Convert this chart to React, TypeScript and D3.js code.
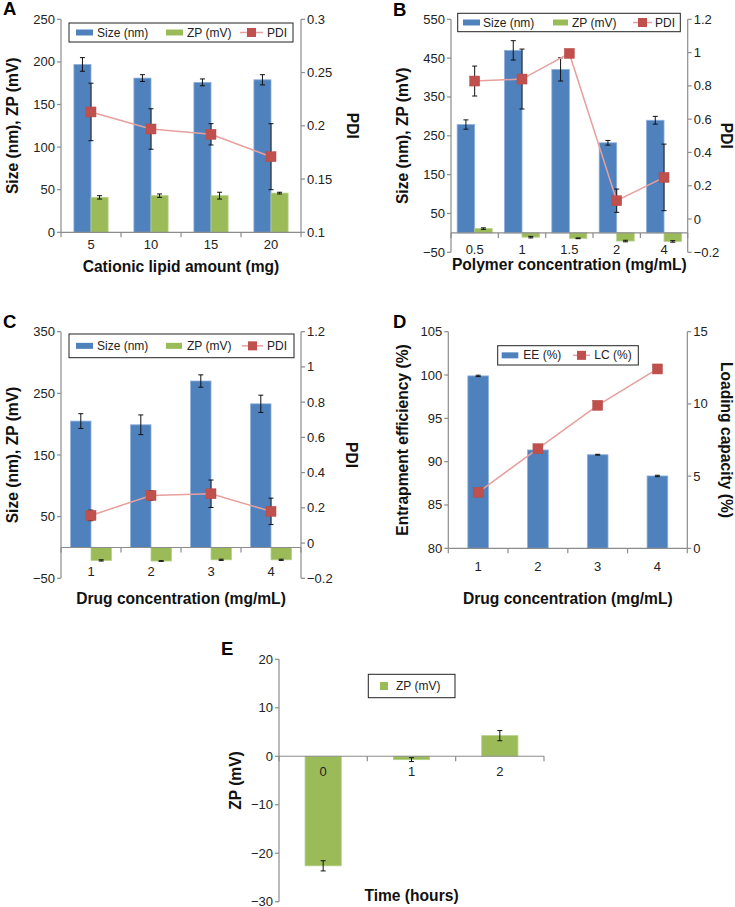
import React from "react";
import * as d3 from "d3";

const FONT = '"Liberation Sans", Arial, Helvetica, sans-serif';
const BLUE = "#4f81bd";
const GREEN = "#9bbb59";
const RED = "#c0504d";
const LINEC = "#e6a09e";
const AXIS = "#8c8c8c";

// ---------- DATA ----------
// Panel A
const catA = ["5", "10", "15", "20"];
const sizeA = [197, 181, 176, 179];
const sizeErrA = [8, 4, 4, 6];
const zpA = [41, 43, 43, 46];
const zpErrA = [2, 2, 4, 1];
const pdiA = [0.213, 0.197, 0.192, 0.171];
const pdiErrA = [0.027, 0.019, 0.01, 0.031];
const ticksAL = [0, 50, 100, 150, 200, 250];
const ticksAR = [0.1, 0.15, 0.2, 0.25, 0.3];

// Panel B
const catB = ["0.5", "1", "1.5", "2", "4"];
const sizeB = [279, 470, 421, 232, 290];
const sizeErrB = [12, 25, 30, 6, 10];
const zpB = [11, -11, -14, -21, -22];
const zpErrB = [2, 2, 1, 2, 2];
const pdiB = [0.829, 0.841, 0.995, 0.11, 0.25];
const pdiErrB = [0.09, 0.18, 0, 0.07, 0.2];
const ticksBL = [-50, 50, 150, 250, 350, 450, 550];
const ticksBR = [-0.2, 0, 0.2, 0.4, 0.6, 0.8, 1, 1.2];

// Panel C
const catC = ["1", "2", "3", "4"];
const sizeC = [205, 199, 270, 233];
const sizeErrC = [12, 16, 10, 14];
const zpC = [-21, -22, -20, -20];
const zpErrC = [1, 0.5, 1, 1];
const pdiC = [0.157, 0.27, 0.28, 0.18];
const pdiErrC = [0.03, 0.027, 0.078, 0.075];
const ticksCL = [-50, 50, 150, 250, 350];
const ticksCR = [-0.2, 0, 0.2, 0.4, 0.6, 0.8, 1, 1.2];

// Panel D
const catD = ["1", "2", "3", "4"];
const eeD = [99.9, 91.35, 90.8, 88.35];
const eeErrD = [0.08, 0.1, 0.05, 0.08];
const lcD = [3.88, 6.9, 9.9, 12.42];
const ticksDL = [80, 85, 90, 95, 100, 105];
const ticksDR = [0, 5, 10, 15];

// Panel E
const catE = ["0", "1", "2"];
const zpE = [-22.6, -0.7, 4.25];
const zpErrE = [1.05, 0.4, 1.05];
const ticksEL = [-30, -20, -10, 0, 10, 20];

const fmt = d3.format("~g");

type BarSeries = { values: number[]; errs: number[]; color: string };
type LineSeries = { values: number[]; errs?: number[] };
type LegendItem = { kind: "rect" | "line" | "square"; color: string; label: string; sx: number; sw: number; tx: number };

type PanelProps = {
  letter: string;
  letterX: number;
  letterY: number;
  x0: number;
  x1: number;
  yTop: number;
  yBot: number;
  cats: string[];
  leftDomain: [number, number];
  leftTicks: number[];
  rightDomain?: [number, number];
  rightTicks?: number[];
  bars: BarSeries[];
  barFrac: number;
  line?: LineSeries;
  catLabelY: number;
  leftTitle: string;
  leftTitleX: number;
  rightTitle?: string;
  rightTitleX?: number;
  xTitle: string;
  xTitleY: number;
  legend: { x: number; y: number; w: number; h: number; items: LegendItem[] };
};

function Panel(p: PanelProps) {
  const band = d3.scaleBand<string>().domain(p.cats).range([p.x0, p.x1]).paddingInner(0).paddingOuter(0);
  const yL = d3.scaleLinear().domain(p.leftDomain).range([p.yBot, p.yTop]);
  const yR = p.rightDomain ? d3.scaleLinear().domain(p.rightDomain).range([p.yBot, p.yTop]) : null;
  const bw = band.bandwidth();
  const barW = bw * p.barFrac;
  const base = Math.max(p.leftDomain[0], 0);
  const axisY = yL(base);
  const nb = p.bars.length;
  const cx = (c: string) => (band(c) as number) + bw / 2;
  const midY = (p.yTop + p.yBot) / 2;
  const boundaries = d3.range(p.cats.length + 1).map((i) => p.x0 + i * bw);

  const linePath = p.line && yR
    ? d3.line<number>().x((_, i) => cx(p.cats[i])).y((d) => yR(d))(p.line.values)
    : null;

  return (
    <g>
      <text x={p.letterX} y={p.letterY} fontFamily={FONT} fontWeight="bold" fontSize={18.5}>{p.letter}</text>
      {/* bars */}
      {p.bars.map((s, si) =>
        s.values.map((v, i) => {
          const c = cx(p.cats[i]);
          const bx = c - (nb * barW) / 2 + si * barW;
          const y1 = yL(v);
          return (
            <rect key={`b${si}-${i}`} x={bx} y={Math.min(y1, axisY)} width={barW} height={Math.abs(axisY - y1)}
              fill={s.color} stroke={s.color === BLUE ? "#8eb0db" : "#b5cf85"} strokeWidth={0.8} />
          );
        })
      )}
      {/* bar error bars */}
      {p.bars.map((s, si) =>
        s.values.map((v, i) => {
          const c = cx(p.cats[i]);
          const ex = c - (nb * barW) / 2 + si * barW + barW / 2;
          const e = s.errs[i];
          const ya = yL(v + e), yb = yL(v - e);
          return (
            <g key={`e${si}-${i}`} stroke="#111" strokeWidth={1}>
              <line x1={ex} x2={ex} y1={ya} y2={yb} />
              <line x1={ex - 2.5} x2={ex + 2.5} y1={ya} y2={ya} />
              <line x1={ex - 2.5} x2={ex + 2.5} y1={yb} y2={yb} />
            </g>
          );
        })
      )}
      {/* left axis */}
      <line x1={p.x0} x2={p.x0} y1={p.yTop} y2={p.yBot} stroke={AXIS} strokeWidth={1.2} />
      {p.leftTicks.map((t) => (
        <g key={`lt${t}`}>
          <line x1={p.x0 - 4} x2={p.x0} y1={yL(t)} y2={yL(t)} stroke={AXIS} strokeWidth={1.2} />
          <text x={p.x0 - 6} y={yL(t)} textAnchor="end" dominantBaseline="central" fontFamily={FONT} fontSize={13} fill="#222">{fmt(t)}</text>
        </g>
      ))}
      {/* right axis */}
      {yR && p.rightTicks && (
        <g>
          <line x1={p.x1} x2={p.x1} y1={p.yTop} y2={p.yBot} stroke={AXIS} strokeWidth={1.2} />
          {p.rightTicks.map((t) => (
            <g key={`rt${t}`}>
              <line x1={p.x1} x2={p.x1 + 4} y1={yR(t)} y2={yR(t)} stroke={AXIS} strokeWidth={1.2} />
              <text x={p.x1 + 6} y={yR(t)} dominantBaseline="central" fontFamily={FONT} fontSize={13} fill="#222">{fmt(t)}</text>
            </g>
          ))}
        </g>
      )}
      {/* x axis */}
      <line x1={p.x0} x2={p.x1} y1={axisY} y2={axisY} stroke={AXIS} strokeWidth={1.2} />
      {boundaries.map((bx, i) => (
        <line key={`xt${i}`} x1={bx} x2={bx} y1={axisY} y2={axisY + 5} stroke={AXIS} strokeWidth={1.2} />
      ))}
      {p.cats.map((c) => (
        <text key={`cl${c}`} x={cx(c)} y={p.catLabelY} textAnchor="middle" dominantBaseline="central" fontFamily={FONT} fontSize={13} fill="#222">{c}</text>
      ))}
      {/* line series */}
      {linePath && <path d={linePath} fill="none" stroke={LINEC} strokeWidth={1.5} />}
      {p.line && yR && p.line.errs && p.line.values.map((v, i) => {
        const e = p.line!.errs![i];
        if (!e) return null;
        const x = cx(p.cats[i]);
        const ya = yR(v + e), yb = yR(v - e);
        return (
          <g key={`le${i}`} stroke="#111" strokeWidth={1}>
            <line x1={x} x2={x} y1={ya} y2={yb} />
            <line x1={x - 2.5} x2={x + 2.5} y1={ya} y2={ya} />
            <line x1={x - 2.5} x2={x + 2.5} y1={yb} y2={yb} />
          </g>
        );
      })}
      {p.line && yR && p.line.values.map((v, i) => (
        <rect key={`m${i}`} x={cx(p.cats[i]) - 5} y={yR(v) - 5} width={10} height={10} fill={RED} stroke="#b84a47" strokeWidth={0.5} />
      ))}
      {/* titles */}
      <text transform={`translate(${p.leftTitleX},${midY}) rotate(-90)`} textAnchor="middle" dominantBaseline="central"
        fontFamily={FONT} fontWeight="bold" fontSize={15.6} fill="#111">{p.leftTitle}</text>
      {p.rightTitle && (
        <text transform={`translate(${p.rightTitleX},${midY}) rotate(90)`} textAnchor="middle" dominantBaseline="central"
          fontFamily={FONT} fontWeight="bold" fontSize={15.6} fill="#111">{p.rightTitle}</text>
      )}
      <text x={(p.x0 + p.x1) / 2} y={p.xTitleY} textAnchor="middle" dominantBaseline="central"
        fontFamily={FONT} fontWeight="bold" fontSize={15.6} fill="#111">{p.xTitle}</text>
      {/* legend */}
      <Legend {...p.legend} />
    </g>
  );
}

function Legend(l: { x: number; y: number; w: number; h: number; items: LegendItem[] }) {
  const cy = l.y + l.h / 2;
  return (
    <g>
      <rect x={l.x} y={l.y} width={l.w} height={l.h} fill="#fff" stroke="#222" strokeWidth={1} />
      {l.items.map((it, i) => (
        <g key={i}>
          {it.kind === "rect" && <rect x={it.sx} y={cy - 3} width={it.sw} height={6} fill={it.color} />}
          {it.kind === "square" && <rect x={it.sx} y={cy - 4} width={it.sw} height={8} fill={it.color} />}
          {it.kind === "line" && (
            <g>
              <line x1={it.sx} x2={it.sx + it.sw} y1={cy} y2={cy} stroke={LINEC} strokeWidth={1.5} />
              <rect x={it.sx + it.sw / 2 - 4.5} y={cy - 4.5} width={9} height={9} fill={RED} />
            </g>
          )}
          <text x={it.tx} y={cy} dominantBaseline="central" fontFamily={FONT} fontSize={12} fill="#222">{it.label}</text>
        </g>
      ))}
    </g>
  );
}

export default function App() {
  return (
    <svg width={735} height={907} viewBox="0 0 735 907"
      style={{ position: "absolute", left: 0, top: 0, background: "#fff" }}>
      <rect x={0} y={0} width={735} height={907} fill="#fff" />
      <Panel
        letter="A" letterX={3} letterY={15}
        x0={61} x1={301} yTop={19.3} yBot={232.3}
        cats={catA} leftDomain={[0, 250]} leftTicks={ticksAL}
        rightDomain={[0.1, 0.3]} rightTicks={ticksAR}
        bars={[{ values: sizeA, errs: sizeErrA, color: BLUE }, { values: zpA, errs: zpErrA, color: GREEN }]}
        barFrac={0.285}
        line={{ values: pdiA, errs: pdiErrA }}
        catLabelY={244}
        leftTitle="Size (nm), ZP (mV)" leftTitleX={12}
        rightTitle="PDI" rightTitleX={352}
        xTitle="Cationic lipid amount (mg)" xTitleY={266}
        legend={{ x: 69, y: 23, w: 224, h: 19, items: [
          { kind: "rect", color: BLUE, label: "Size (nm)", sx: 76, sw: 17, tx: 97 },
          { kind: "rect", color: GREEN, label: "ZP (mV)", sx: 166, sw: 17, tx: 187 },
          { kind: "line", color: RED, label: "PDI", sx: 240, sw: 23, tx: 267 },
        ] }}
      />
      <Panel
        letter="B" letterX={393} letterY={16}
        x0={451} x1={687.7} yTop={19.3} yBot={252.3}
        cats={catB} leftDomain={[-50, 550]} leftTicks={ticksBL}
        rightDomain={[-0.2, 1.2]} rightTicks={ticksBR}
        bars={[{ values: sizeB, errs: sizeErrB, color: BLUE }, { values: zpB, errs: zpErrB, color: GREEN }]}
        barFrac={0.37}
        line={{ values: pdiB, errs: pdiErrB }}
        catLabelY={249}
        leftTitle="Size (nm), ZP (mV)" leftTitleX={402}
        rightTitle="PDI" rightTitleX={726}
        xTitle="Polymer concentration (mg/mL)" xTitleY={264}
        legend={{ x: 457.7, y: 13.3, w: 222.6, h: 18.4, items: [
          { kind: "rect", color: BLUE, label: "Size (nm)", sx: 463, sw: 17, tx: 483 },
          { kind: "rect", color: GREEN, label: "ZP (mV)", sx: 553, sw: 15, tx: 572 },
          { kind: "line", color: RED, label: "PDI", sx: 633, sw: 19, tx: 655 },
        ] }}
      />
      <Panel
        letter="C" letterX={3} letterY={328}
        x0={61} x1={301} yTop={331.7} yBot={578.3}
        cats={catC} leftDomain={[-50, 350]} leftTicks={ticksCL}
        rightDomain={[-0.2, 1.2]} rightTicks={ticksCR}
        bars={[{ values: sizeC, errs: sizeErrC, color: BLUE }, { values: zpC, errs: zpErrC, color: GREEN }]}
        barFrac={0.34}
        line={{ values: pdiC, errs: pdiErrC }}
        catLabelY={571.7}
        leftTitle="Size (nm), ZP (mV)" leftTitleX={12}
        rightTitle="PDI" rightTitleX={351}
        xTitle="Drug concentration (mg/mL)" xTitleY={598}
        legend={{ x: 69, y: 334, w: 225, h: 23.7, items: [
          { kind: "rect", color: BLUE, label: "Size (nm)", sx: 76, sw: 17, tx: 97 },
          { kind: "rect", color: GREEN, label: "ZP (mV)", sx: 166, sw: 16, tx: 187 },
          { kind: "line", color: RED, label: "PDI", sx: 242, sw: 21, tx: 267 },
        ] }}
      />
      <Panel
        letter="D" letterX={393} letterY={328}
        x0={448.3} x1={687.3} yTop={331.7} yBot={548.3}
        cats={catD} leftDomain={[80, 105]} leftTicks={ticksDL}
        rightDomain={[0, 15]} rightTicks={ticksDR}
        bars={[{ values: eeD, errs: eeErrD, color: BLUE }]}
        barFrac={0.346}
        line={{ values: lcD }}
        catLabelY={566.7}
        leftTitle="Entrapment efficiency (%)" leftTitleX={402}
        rightTitle="Loading capacity (%)" rightTitleX={726}
        xTitle="Drug concentration (mg/mL)" xTitleY={598}
        legend={{ x: 497.7, y: 345.7, w: 140.6, h: 19.3, items: [
          { kind: "rect", color: BLUE, label: "EE (%)", sx: 501.7, sw: 16.6, tx: 523.3 },
          { kind: "line", color: RED, label: "LC (%)", sx: 573, sw: 17, tx: 594.3 },
        ] }}
      />
      <Panel
        letter="E" letterX={221} letterY={655}
        x0={279} x1={544} yTop={659.3} yBot={901.7}
        cats={catE} leftDomain={[-30, 20]} leftTicks={ticksEL}
        bars={[{ values: zpE, errs: zpErrE, color: GREEN }]}
        barFrac={0.41}
        catLabelY={771}
        leftTitle="ZP (mV)" leftTitleX={235}
        xTitle="Time (hours)" xTitleY={895}
        legend={{ x: 368.3, y: 674.3, w: 86.7, h: 23.4, items: [
          { kind: "square", color: GREEN, label: "ZP (mV)", sx: 380, sw: 8, tx: 396 },
        ] }}
      />
    </svg>
  );
}
